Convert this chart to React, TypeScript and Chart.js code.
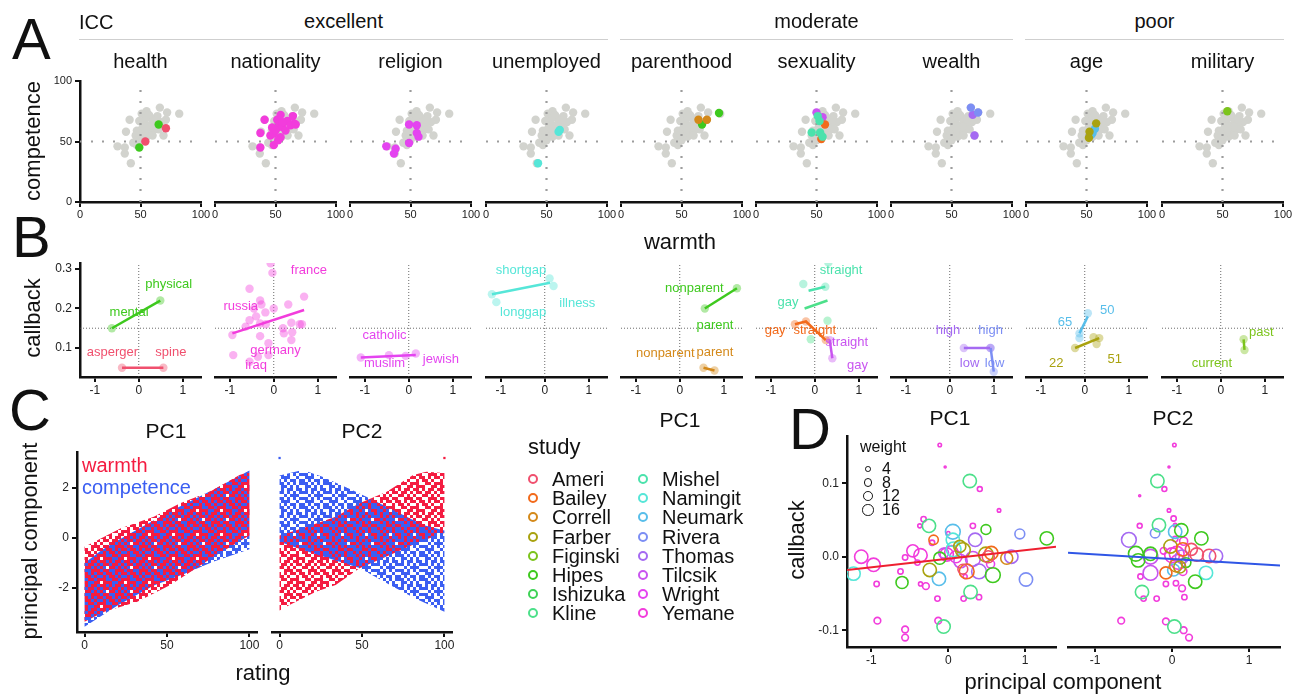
import React, { useEffect, useRef } from 'react';
import { Chart, registerables } from 'chart.js';

Chart.register(...registerables);

const FONT = '"Liberation Sans", Arial, Helvetica, sans-serif';

// ---------------- data ----------------
const STUDIES = ['Ameri', 'Bailey', 'Correll', 'Farber', 'Figinski', 'Hipes', 'Ishizuka', 'Kline',
  'Mishel', 'Namingit', 'Neumark', 'Rivera', 'Thomas', 'Tilcsik', 'Wright', 'Yemane'];
const STUDY_COLORS = ['#F0506E', '#F26A1B', '#D4891A', '#A9A20F', '#7CC41C', '#3EC91E', '#3ED256', '#4CE08A',
  '#4BE2AC', '#56E6D8', '#58BEEA', '#7C8EF4', '#A56AF2', '#C954F0', '#E444F0', '#F23CDC'];

// Panel A
const A_TITLES = ['health', 'nationality', 'religion', 'unemployed', 'parenthood', 'sexuality', 'wealth', 'age', 'military'];
const A_GROUPS = [
  { label: 'excellent', from: 0, to: 3 },
  { label: 'moderate', from: 4, to: 6 },
  { label: 'poor', from: 7, to: 8 },
];
const A_TICKS = [0, 50, 100];
const A_MID = 50;
const GREY_WARMTH = [82, 72, 66, 55, 51, 41, 71, 64, 60, 57, 53, 51, 47, 46, 38, 58, 55, 50, 69, 31, 37, 37, 42, 47, 54, 61, 56, 67, 49, 51, 44, 62, 58, 52, 48, 65, 60, 53, 57, 63, 59, 49, 54];
const GREY_COMPETENCE = [73, 74, 78, 75, 73, 68, 68, 71, 67, 63, 65, 60, 59, 55, 58, 58, 54, 51, 55, 46, 45, 40, 32, 47, 69, 60, 59, 66, 67, 55, 49, 64, 70, 62, 52, 60, 55, 57, 72, 68, 62, 56, 61];

const A_HEALTH = [
  { s: 'Ameri', pts: [[71, 61], [54, 50]] },
  { s: 'Hipes', pts: [[65, 64], [49, 45]] },
];
const A_NATIONALITY = [
  { s: 'Yemane', pts: [[41, 68], [37.5, 57], [37.5, 45], [48.6, 47], [51.4, 68], [54.2, 72], [53, 66], [50.6, 60.5], [45.8, 55], [55.6, 62], [59.7, 67], [64.4, 71], [65.3, 65], [62.5, 63.4], [58.3, 59], [54.2, 53.5], [48.6, 56.6], [52.2, 51], [50, 59], [56, 66], [66.7, 64], [47.2, 61.6]] },
];
const A_RELIGION = [
  { s: 'Wright', pts: [[30, 46], [37.7, 44], [36.3, 40], [48.8, 64], [55.2, 63.4], [48.8, 48.7], [55.2, 57], [56.6, 54]] },
];
const A_UNEMPLOYED = [{ s: 'Namingit', pts: [[60, 58], [43, 32], [61, 59.5]] }];
const A_PARENTHOOD = [
  { s: 'Correll', pts: [[64, 68], [71, 68]] },
  { s: 'Hipes', pts: [[81, 73.5], [67, 64]] },
];
const A_SEXUALITY = [
  { s: 'Mishel', pts: [[46, 57.5], [52.5, 67], [53, 57.5], [55, 54], [51, 71]] },
  { s: 'Bailey', pts: [[57, 64], [54, 52]] },
  { s: 'Tilcsik', pts: [[50, 74], [55, 70]] },
];
const A_WEALTH = [
  { s: 'Rivera', pts: [[66, 78], [72, 74]] },
  { s: 'Thomas', pts: [[67.5, 72], [69, 55]] },
];
const A_AGE = [
  { s: 'Farber', pts: [[58, 65], [52.5, 58], [52, 53]] },
  { s: 'Neumark', pts: [[54, 55.6], [57, 60.5], [55, 57]] },
];
const A_MILITARY = [{ s: 'Figinski', pts: [[54, 75]] }];
const A_ALL = [A_HEALTH, A_NATIONALITY, A_RELIGION, A_UNEMPLOYED, A_PARENTHOOD, A_SEXUALITY, A_WEALTH, A_AGE, A_MILITARY];

// Panel B
const B_X_TICKS = [-1, 0, 1];
const B_Y_TICKS = [0.1, 0.2, 0.3];
const B_REF_CALLBACK = 0.15;
const B_REF_PC = 0;
const B_HEALTH = [
  { s: 'Hipes', line: [[-0.61, 0.15], [0.49, 0.22]], labels: [['mental', -0.22, 0.19], ['physical', 0.68, 0.26]] },
  { s: 'Ameri', line: [[-0.38, 0.05], [0.56, 0.05]], labels: [['asperger', -0.6, 0.09], ['spine', 0.73, 0.09]] },
];
const B_NATIONALITY = [
  {
    s: 'Yemane', line: [[-0.94, 0.137], [0.69, 0.196]],
    pts: [[-0.07, 0.314], [-0.03, 0.29], [-0.55, 0.25], [-0.31, 0.22], [-0.28, 0.21], [-0.45, 0.2], [-0.19, 0.19], [0.0, 0.2], [-0.55, 0.17], [-0.4, 0.18], [-0.64, 0.154], [-0.31, 0.162], [-0.94, 0.133], [-0.31, 0.13], [-0.12, 0.112], [0.21, 0.15], [0.23, 0.137], [0.4, 0.164], [0.42, 0.14], [0.33, 0.21], [0.69, 0.23], [0.59, 0.16], [0.64, 0.16], [0.4, 0.12], [-0.92, 0.082], [-0.12, 0.082], [-0.36, 0.078], [-0.55, 0.065], [-0.18, 0.16]],
    labels: [['france', 0.8, 0.297], ['russia', -0.75, 0.206], ['germany', 0.04, 0.095], ['iraq', -0.4, 0.057]],
  },
];
const B_RELIGION = [
  { s: 'Wright', line: [[-1.09, 0.076], [0.16, 0.082]], pts: [[-1.09, 0.076], [-0.45, 0.082], [-0.07, 0.08], [0.16, 0.086]], labels: [['catholic', -0.55, 0.133], ['muslim', -0.55, 0.06], ['jewish', 0.73, 0.071]] },
];
const B_UNEMPLOYED = [
  { s: 'Namingit', line: [[-1.2, 0.236], [0.12, 0.265]], pts: [[-1.2, 0.236], [0.11, 0.276], [0.2, 0.257], [-1.1, 0.216]], labels: [['shortgap', -0.54, 0.297], ['illness', 0.74, 0.213], ['longgap', -0.49, 0.19]] },
];
const B_PARENTHOOD = [
  { s: 'Hipes', line: [[0.57, 0.2], [1.3, 0.251]], labels: [['nonparent', 0.33, 0.251], ['parent', 0.8, 0.156]] },
  { s: 'Correll', line: [[0.54, 0.05], [0.79, 0.043]], labels: [['nonparent', -0.33, 0.087], ['parent', 0.8, 0.088]] },
];
const B_SEXUALITY = [
  { s: 'Mishel', line: [[-0.14, 0.245], [0.24, 0.255]], pts: [[-0.26, 0.262], [0.24, 0.255], [0.31, 0.316]], labels: [['straight', 0.6, 0.296], ['gay', -0.61, 0.215]] },
  { s: 'Kline', line: [[-0.23, 0.2], [0.29, 0.22]], pts: [[0.29, 0.169], [-0.09, 0.122]], labels: [] },
  { s: 'Bailey', line: [[-0.45, 0.16], [-0.2, 0.167], [0.25, 0.12]], labels: [['gay', -0.9, 0.144], ['straight', 0.0, 0.144]] },
  { s: 'Tilcsik', line: [[0.34, 0.12], [0.4, 0.074]], labels: [['straight', 0.73, 0.113], ['gay', 0.97, 0.057]] },
];
const B_WEALTH = [
  { s: 'Thomas', line: [[0.32, 0.1], [0.92, 0.1]], labels: [['high', -0.04, 0.144], ['low', 0.45, 0.06]] },
  { s: 'Rivera', line: [[0.93, 0.1], [1.0, 0.04]], labels: [['high', 0.93, 0.144], ['low', 1.02, 0.06]] },
];
const B_AGE = [
  { s: 'Neumark', line: [[-0.12, 0.137], [0.07, 0.18]], pts: [[0.07, 0.188], [-0.12, 0.125], [-0.12, 0.137]], labels: [['65', -0.45, 0.164], ['50', 0.51, 0.196]] },
  { s: 'Farber', line: [[-0.22, 0.1], [0.33, 0.125]], pts: [[-0.22, 0.1], [0.2, 0.127], [0.33, 0.125], [0.27, 0.11]], labels: [['22', -0.65, 0.06], ['51', 0.68, 0.07]] },
];
const B_MILITARY = [
  { s: 'Figinski', line: [[0.54, 0.095], [0.52, 0.122]], labels: [['past', 0.92, 0.139], ['current', -0.2, 0.06]] },
];
const B_ALL = [B_HEALTH, B_NATIONALITY, B_RELIGION, B_UNEMPLOYED, B_PARENTHOOD, B_SEXUALITY, B_WEALTH, B_AGE, B_MILITARY];

// Panel C: outlines of the rating / principal-component point clouds
const C_X_TICKS = [0, 50, 100];
const C_Y_TICKS = [-2, 0, 2];
const WARMTH_PC1_UPPER = [[0, -0.35], [6, -0.15], [22, 0.39], [42, 0.85], [58, 1.39], [76, 1.85], [94, 2.52], [100, 2.65]];
const WARMTH_PC1_LOWER = [[100, 0.1], [80, -0.68], [52, -1.88], [32, -2.55], [12, -2.95], [0, -3.35]];
const COMPETENCE_PC1_UPPER = [[0, -1.0], [10, -0.5], [20, -0.1], [50, 1.0], [80, 2.0], [100, 2.7]];
const COMPETENCE_PC1_LOWER = [[100, -0.45], [78, -0.95], [60, -1.45], [42, -1.9], [20, -2.7], [0, -3.55]];
const WARMTH_PC2_UPPER = [[0, 0.1], [14, 0.39], [34, 0.85], [48.5, 1.39], [65, 1.85], [81, 2.52], [89, 2.65], [100, 2.6]];
const WARMTH_PC2_LOWER = [[100, 0.2], [85, -0.15], [67, -0.68], [48.5, -1.21], [34, -1.88], [22, -2.15], [6, -2.68], [0, -2.9]];
const COMPETENCE_PC2_UPPER = [[0, 2.5], [14, 2.72], [26, 2.45], [44, 1.92], [54.5, 1.59], [75, 0.92], [87, 0.52], [100, 0.3]];
const COMPETENCE_PC2_LOWER = [[100, -2.95], [82, -2.41], [67, -1.88], [48.5, -1.2], [14, -0.48], [0, -0.15]];
const WARMTH_PC2_OUTLIERS = [[100, 3.2]];
const COMPETENCE_PC2_OUTLIERS = [[0, 3.2]];

// Panel D: study-level callback vs principal component [study, pc, callback, weight]
const D_X_TICKS = [-1, 0, 1];
const D_Y_TICKS = [-0.1, 0, 0.1];
const WEIGHT_KEYS = [4, 8, 12, 16];
const D_PC1 = [
  ['Yemane', -0.11, 0.152, 1.5], ['Yemane', -0.04, 0.122, 0.5], ['Kline', 0.28, 0.103, 22], ['Yemane', 0.41, 0.092, 3],
  ['Yemane', 0.66, 0.063, 1.5], ['Yemane', -0.32, 0.051, 3.5], ['Yemane', -0.37, 0.042, 2], ['Kline', -0.25, 0.042, 22],
  ['Neumark', 0.06, 0.034, 27], ['Bailey', -0.19, 0.023, 11], ['Yemane', -0.21, 0.019, 3.5], ['Yemane', 0.0, 0.032, 1.5],
  ['Yemane', 0.32, 0.042, 3.5], ['Hipes', 0.49, 0.037, 12], ['Rivera', 0.93, 0.031, 12], ['Hipes', 1.28, 0.025, 22],
  ['Thomas', 0.35, 0.023, 22], ['Farber', 0.15, 0.014, 18], ['Namingit', 0.06, 0.023, 22], ['Yemane', -1.13, 0.0, 22],
  ['Yemane', -0.97, -0.011, 22], ['Namingit', -1.23, -0.023, 22], ['Yemane', -0.56, -0.001, 3.5], ['Yemane', -0.46, 0.008, 18],
  ['Yemane', -0.36, 0.002, 22], ['Yemane', -0.40, -0.008, 3.5], ['Farber', -0.24, -0.018, 22], ['Hipes', -0.11, -0.002, 18],
  ['Yemane', -0.02, 0.003, 22], ['Yemane', 0.04, 0.006, 22], ['Tilcsik', -0.06, 0.005, 12], ['Farber', 0.19, 0.009, 27],
  ['Bailey', 0.24, -0.02, 27], ['Ameri', 0.19, -0.017, 12], ['Thomas', 0.40, -0.02, 27], ['Tilcsik', 0.32, -0.003, 27],
  ['Farber', 0.49, 0.003, 27], ['Bailey', 0.56, 0.005, 22], ['Correll', 0.76, -0.002, 18], ['Thomas', 0.82, 0.0, 22],
  ['Hipes', 0.58, -0.025, 27], ['Neumark', -0.12, -0.030, 22], ['Rivera', 1.01, -0.031, 22], ['Hipes', -0.60, -0.035, 18],
  ['Yemane', -0.62, -0.020, 3.5], ['Yemane', -0.93, -0.037, 3.5], ['Yemane', -0.36, -0.037, 2], ['Yemane', -0.29, -0.040, 5.5],
  ['Yemane', 0.22, -0.027, 2], ['Kline', 0.29, -0.048, 22], ['Yemane', -0.14, -0.057, 3.5], ['Yemane', 0.20, -0.057, 3.5],
  ['Yemane', 0.40, -0.055, 3.5], ['Yemane', -0.92, -0.087, 5.5], ['Yemane', -0.13, -0.087, 5.5], ['Kline', -0.06, -0.095, 22],
  ['Yemane', -0.56, -0.099, 5.5], ['Yemane', -0.56, -0.110, 5.5], ['Namingit', 0.07, 0.010, 27], ['Tilcsik', 0.16, -0.006, 22],
  ['Yemane', 0.10, 0.0, 18], ['Wright', 0.55, -0.01, 8], ['Ameri', 0.52, 0.0, 18],
];
const D_PC2 = [
  ['Yemane', 0.03, 0.152, 1.5], ['Yemane', -0.04, 0.122, 0.5], ['Kline', -0.19, 0.103, 22], ['Yemane', -0.10, 0.092, 3],
  ['Yemane', -0.42, 0.083, 0.5], ['Yemane', -0.04, 0.063, 1.5], ['Yemane', 0.02, 0.052, 3.5], ['Yemane', -0.42, 0.042, 3],
  ['Kline', -0.17, 0.043, 22], ['Rivera', -0.22, 0.032, 11], ['Neumark', 0.04, 0.034, 22], ['Yemane', 0.04, 0.043, 1.5],
  ['Hipes', 0.12, 0.036, 22], ['Hipes', 0.38, 0.025, 22], ['Thomas', -0.56, 0.023, 27], ['Yemane', 0.04, 0.024, 3.5],
  ['Yemane', 0.15, 0.021, 8], ['Farber', -0.02, 0.014, 22], ['Hipes', -0.47, 0.004, 27], ['Hipes', -0.44, -0.005, 22],
  ['Hipes', -0.28, 0.004, 22], ['Tilcsik', -0.28, 0.0, 27], ['Yemane', -0.11, 0.008, 5.5], ['Yemane', 0.0, 0.002, 27],
  ['Yemane', 0.06, 0.004, 27], ['Thomas', 0.13, 0.0, 22], ['Ameri', 0.32, 0.003, 22], ['Ameri', 0.48, 0.001, 22],
  ['Thomas', 0.57, 0.001, 22], ['Tilcsik', -0.28, -0.022, 27], ['Yemane', -0.41, -0.027, 3.5], ['Bailey', -0.08, -0.022, 18],
  ['Neumark', 0.02, -0.018, 18], ['Farber', 0.10, -0.014, 18], ['Yemane', 0.14, -0.020, 8], ['Hipes', 0.30, -0.034, 22],
  ['Namingit', 0.44, -0.022, 22], ['Yemane', -0.08, -0.037, 3.5], ['Yemane', 0.05, -0.036, 3.5], ['Yemane', 0.13, -0.043, 5.5],
  ['Kline', -0.39, -0.048, 22], ['Yemane', -0.37, -0.057, 3.5], ['Yemane', -0.20, -0.057, 3.5], ['Yemane', 0.16, -0.055, 3.5],
  ['Yemane', -0.66, -0.087, 5.5], ['Yemane', -0.08, -0.088, 5.5], ['Kline', 0.03, -0.095, 22], ['Yemane', 0.15, -0.100, 5.5],
  ['Yemane', 0.22, -0.110, 5.5], ['Yemane', 0.08, -0.007, 27], ['Bailey', 0.14, 0.010, 22], ['Hipes', 0.18, -0.008, 12],
  ['Correll', 0.05, -0.012, 20], ['Ameri', 0.25, 0.01, 18],
];
const D_PC1_FIT = [[-1.315, -0.018], [1.4, 0.0136]];
const D_PC2_FIT = [[-1.35, 0.0054], [1.4, -0.0118]];

// ---------------- style / layout ----------------
const PAD = 18, PAD_T = 12, XH = 30;
const STRIDE = 135.2;
const C_RED = '#F41C41';
const C_BLUE = '#3B5EF2';
const RED_MASK = ['10110110', '01101011', '11010100', '00111011', '10101101', '11010010', '01101110', '10011011'];
const BLUE_MASK = ['01011011', '11010101', '00101110', '11010101', '01110010', '10101101', '11010101', '01101010'];

type Area = { l: number; t: number; r: number; b: number };
const colorOf = (s: string) => STUDY_COLORS[STUDIES.indexOf(s)];
function hexA(hex: string, a: number) {
  const n = parseInt(hex.slice(1), 16);
  return `rgba(${(n >> 16) & 255},${(n >> 8) & 255},${n & 255},${a})`;
}
const wr = (w: number) => 1.42 * Math.sqrt(w);
const xy = (arr: number[][]) => arr.map(([x, y]) => ({ x, y }));

function axis(kind: 'x' | 'y', min: number, max: number, ticks: number[] | null, size: number, fmt?: (v: number) => string, fontSize = 12) {
  if (!ticks) return { type: 'linear', display: false, min, max };
  return {
    type: 'linear', min, max,
    afterBuildTicks: (s: any) => { s.ticks = ticks.map((value) => ({ value })); },
    afterFit: (s: any) => { if (kind === 'x') s.height = size; else s.width = size; },
    ticks: {
      autoSkip: false, maxRotation: 0, padding: kind === 'x' ? 1 : 3, color: '#222',
      font: { size: fontSize, family: FONT },
      callback: (v: any) => (fmt ? fmt(Number(v)) : String(v)),
    },
    grid: { drawOnChartArea: false, drawTicks: true, tickLength: 5, color: '#111', lineWidth: 2 },
    border: { display: true, color: '#111', width: 2.5 },
  };
}

function opts(yW: number, xs: any, ys: any) {
  return {
    responsive: false, animation: false, events: [], devicePixelRatio: 1,
    layout: { padding: { left: yW > 0 ? 0 : PAD, right: PAD, top: PAD_T, bottom: 0 } },
    plugins: { legend: { display: false }, tooltip: { enabled: false } },
    scales: { x: xs, y: ys },
  };
}

function labelPlugin(items: { text: string; x: number; y: number; color: string }[]) {
  return {
    id: 'pointLabels',
    afterDatasetsDraw(chart: any) {
      const ctx = chart.ctx;
      const xs = chart.scales.x, ys = chart.scales.y;
      ctx.save();
      ctx.font = `13px ${FONT}`;
      ctx.textAlign = 'center';
      ctx.textBaseline = 'middle';
      items.forEach((it) => {
        ctx.fillStyle = it.color;
        ctx.fillText(it.text, xs.getPixelForValue(it.x), ys.getPixelForValue(it.y));
      });
      ctx.restore();
    },
  };
}

function makePattern(color: string, mask: string[]) {
  const cell = 3;
  const c = document.createElement('canvas');
  c.width = c.height = cell * mask.length;
  const g = c.getContext('2d') as CanvasRenderingContext2D;
  g.fillStyle = color;
  mask.forEach((row, r) => row.split('').forEach((ch, k) => { if (ch === '1') g.fillRect(k * cell, r * cell, cell, cell); }));
  return g.createPattern(c, 'repeat');
}

// ---------------- chart builders ----------------
const aArea = (i: number): Area => ({ l: Math.round(80 + STRIDE * i), t: 81, r: Math.round(80 + STRIDE * i) + 121, b: 202 });
const bArea = (i: number): Area => ({ l: Math.round(80 + STRIDE * i), t: 263, r: Math.round(80 + STRIDE * i) + 121, b: 377 });
const B_XMIN = -1.335, B_XMAX = 1.415, B_YMIN = 0.0266, B_YMAX = 0.315;
const C_AREAS: Area[] = [{ l: 77, t: 452, r: 257, b: 632 }, { l: 272, t: 452, r: 452, b: 632 }];
const C_XMIN = -4.6, C_XMAX = 104.6, C_YMIN = -3.76, C_YMAX = 3.44;
const D_AREAS: Area[] = [{ l: 847, t: 436, r: 1056, b: 647 }, { l: 1068, t: 436, r: 1280, b: 647 }];
const D_XR = [[-1.315, 1.4], [-1.35, 1.4]];
const D_YMIN = -0.1228, D_YMAX = 0.1642;

function aConfig(i: number) {
  const yW = i === 0 ? 45 : 0;
  const ds: any[] = [];
  A_ALL[i].forEach((g) => ds.push({
    data: xy(g.pts), backgroundColor: colorOf(g.s), pointRadius: 4.2, pointBorderWidth: 0, order: 1,
  }));
  const dotted = { showLine: true, borderColor: '#9c9c9c', borderWidth: 2.2, borderDash: [2, 9], pointRadius: 0, fill: false, order: 2 };
  ds.push({ ...dotted, data: [{ x: A_MID, y: 0 }, { x: A_MID, y: 100 }] });
  ds.push({ ...dotted, data: [{ x: 0, y: A_MID }, { x: 100, y: A_MID }] });
  ds.push({
    data: GREY_WARMTH.map((w, k) => ({ x: w, y: GREY_COMPETENCE[k] })),
    backgroundColor: '#D2D3CE', pointRadius: 4.2, pointBorderWidth: 0, order: 3,
  });
  return {
    type: 'scatter', data: { datasets: ds },
    options: opts(yW, axis('x', 0, 100, A_TICKS, XH, undefined, 11), axis('y', 0, 100, i === 0 ? A_TICKS : null, yW, undefined, 11)),
  };
}

function bConfig(i: number) {
  const yW = i === 0 ? 45 : 0;
  const ds: any[] = [];
  const labels: any[] = [];
  B_ALL[i].forEach((g: any) => {
    const col = colorOf(g.s);
    ds.push({ data: xy(g.line), showLine: true, borderColor: col, borderWidth: 2.5, pointRadius: 0, fill: false, order: 1 });
    ds.push({ data: xy(g.pts || g.line), backgroundColor: hexA(col, 0.4), pointRadius: 4.2, pointBorderWidth: 0, order: 2 });
    g.labels.forEach(([text, x, y]: any) => labels.push({ text, x, y, color: col }));
  });
  const dotted = { showLine: true, borderColor: '#444', borderWidth: 0.8, borderDash: [1, 2], pointRadius: 0, fill: false, order: 3 };
  ds.push({ ...dotted, data: [{ x: B_XMIN, y: B_REF_CALLBACK }, { x: B_XMAX, y: B_REF_CALLBACK }] });
  ds.push({ ...dotted, data: [{ x: B_REF_PC, y: B_YMIN }, { x: B_REF_PC, y: B_YMAX }] });
  return {
    type: 'scatter', data: { datasets: ds },
    options: opts(yW, axis('x', B_XMIN, B_XMAX, B_X_TICKS, XH), axis('y', B_YMIN, B_YMAX, i === 0 ? B_Y_TICKS : null, yW, (v) => v.toFixed(1))),
    plugins: [labelPlugin(labels)],
  };
}

function cConfig(k: number) {
  const yW = k === 0 ? 40 : 0;
  const red = makePattern(C_RED, RED_MASK);
  const blue = makePattern(C_BLUE, BLUE_MASK);
  const wU = k === 0 ? WARMTH_PC1_UPPER : WARMTH_PC2_UPPER;
  const wL = k === 0 ? WARMTH_PC1_LOWER : WARMTH_PC2_LOWER;
  const cU = k === 0 ? COMPETENCE_PC1_UPPER : COMPETENCE_PC2_UPPER;
  const cL = k === 0 ? COMPETENCE_PC1_LOWER : COMPETENCE_PC2_LOWER;
  const poly = (pts: number[][], pat: any, order: number) => ({
    data: xy(pts), showLine: true, fill: 'shape', backgroundColor: pat, borderWidth: 0, borderColor: 'rgba(0,0,0,0)', pointRadius: 0, order,
  });
  const ds: any[] = k === 0
    ? [poly(wU.concat(wL), red, 1), poly(cU.concat(cL), blue, 2)]
    : [poly(cU.concat(cL), blue, 1), poly(wU.concat(wL), red, 2)];
  if (k === 1) {
    ds.push({ data: xy(WARMTH_PC2_OUTLIERS), pointStyle: 'rect', pointRadius: 1.6, backgroundColor: C_RED, pointBorderWidth: 0, order: 0 });
    ds.push({ data: xy(COMPETENCE_PC2_OUTLIERS), pointStyle: 'rect', pointRadius: 1.6, backgroundColor: C_BLUE, pointBorderWidth: 0, order: 0 });
  }
  return {
    type: 'scatter', data: { datasets: ds },
    options: opts(yW, axis('x', C_XMIN, C_XMAX, C_X_TICKS, XH), axis('y', C_YMIN, C_YMAX, k === 0 ? C_Y_TICKS : null, yW)),
  };
}

function dConfig(k: number) {
  const yW = k === 0 ? 45 : 0;
  const rows = k === 0 ? D_PC1 : D_PC2;
  const fit = k === 0 ? D_PC1_FIT : D_PC2_FIT;
  const ds: any[] = [{
    data: xy(fit), showLine: true, borderColor: k === 0 ? '#EE2030' : '#2F56E6', borderWidth: 2, pointRadius: 0, fill: false, order: 0,
  }];
  STUDIES.forEach((s) => {
    const pts = rows.filter((r: any) => r[0] === s);
    if (!pts.length) return;
    ds.push({
      type: 'bubble', data: pts.map((r: any) => ({ x: r[1], y: r[2], r: wr(r[3]) })),
      backgroundColor: 'rgba(0,0,0,0)', borderColor: colorOf(s), borderWidth: 1.6, order: 1,
    });
  });
  return {
    type: 'scatter', data: { datasets: ds },
    options: opts(yW, axis('x', D_XR[k][0], D_XR[k][1], D_X_TICKS, XH), axis('y', D_YMIN, D_YMAX, k === 0 ? D_Y_TICKS : null, yW, (v) => v.toFixed(1))),
  };
}

// ---------------- components ----------------
function ChartBox({ area, yW, build }: { area: Area; yW: number; build: () => any }) {
  const ref = useRef<HTMLCanvasElement | null>(null);
  const padL = yW > 0 ? yW : PAD;
  const box = { left: area.l - padL, top: area.t - PAD_T, width: area.r - area.l + padL + PAD, height: area.b - area.t + PAD_T + XH };
  useEffect(() => {
    const chart = new Chart(ref.current as HTMLCanvasElement, build());
    return () => chart.destroy();
  }, []);
  return (
    <canvas ref={ref} width={box.width} height={box.height}
      style={{ position: 'absolute', left: box.left, top: box.top, width: box.width, height: box.height }} />
  );
}

function Txt({ x, y, children, size = 20, color = '#111', align = 'center', rotate = false }: any) {
  const tx = align === 'center' ? '-50%' : align === 'right' ? '-100%' : '0';
  return (
    <div style={{
      position: 'absolute', left: x, top: y, fontSize: size, color, lineHeight: 1, whiteSpace: 'nowrap',
      transform: `translate(${tx},-50%)${rotate ? ' rotate(-90deg)' : ''}`,
    }}>{children}</div>
  );
}

function Ring({ x, y, r, color, w = 2 }: any) {
  return (
    <div style={{
      position: 'absolute', left: x - r, top: y - r, width: 2 * r, height: 2 * r, boxSizing: 'border-box',
      border: `${w}px solid ${color}`, borderRadius: '50%',
    }} />
  );
}

const LEGEND_ROWS = [479, 498, 517, 537, 556, 575, 594, 613];
const WEIGHT_ROWS = [469, 482.5, 496, 510];

export default function App() {
  return (
    <div style={{ position: 'absolute', left: 0, top: 0, width: 1293, height: 694, background: '#fff', overflow: 'hidden', fontFamily: FONT, color: '#111' }}>
      {A_TITLES.map((_, i) => <ChartBox key={'a' + i} area={aArea(i)} yW={i === 0 ? 45 : 0} build={() => aConfig(i)} />)}
      {A_TITLES.map((_, i) => <ChartBox key={'b' + i} area={bArea(i)} yW={i === 0 ? 45 : 0} build={() => bConfig(i)} />)}
      {[0, 1].map((k) => <ChartBox key={'c' + k} area={C_AREAS[k]} yW={k === 0 ? 40 : 0} build={() => cConfig(k)} />)}
      {[0, 1].map((k) => <ChartBox key={'d' + k} area={D_AREAS[k]} yW={k === 0 ? 45 : 0} build={() => dConfig(k)} />)}

      {/* Panel A headings */}
      <Txt x={12} y={39} size={58} align="left">A</Txt>
      <Txt x={79} y={22} size={20} align="left">ICC</Txt>
      {A_GROUPS.map((g) => {
        const l = aArea(g.from).l - 1, r = aArea(g.to).r + 1;
        return (
          <React.Fragment key={g.label}>
            <Txt x={(l + r) / 2} y={21} size={20}>{g.label}</Txt>
            <div style={{ position: 'absolute', left: l, top: 39, width: r - l, height: 0, borderTop: '1.5px solid #cfcfcf' }} />
          </React.Fragment>
        );
      })}
      {A_TITLES.map((t, i) => <Txt key={t} x={aArea(i).l + 60.5} y={61} size={20}>{t}</Txt>)}
      <Txt x={33} y={141} size={22} rotate>competence</Txt>
      <Txt x={680} y={242} size={22}>warmth</Txt>

      {/* Panel B */}
      <Txt x={12} y={237} size={58} align="left">B</Txt>
      <Txt x={33} y={318} size={22} rotate>callback</Txt>
      <Txt x={680} y={419} size={21}>PC1</Txt>

      {/* Panel C */}
      <Txt x={9} y={410} size={58} align="left">C</Txt>
      <Txt x={166} y={430} size={21}>PC1</Txt>
      <Txt x={362} y={430} size={21}>PC2</Txt>
      <Txt x={30} y={541} size={22} rotate>principal component</Txt>
      <Txt x={263} y={673} size={22}>rating</Txt>
      <Txt x={82} y={465} size={20} color={C_RED} align="left">warmth</Txt>
      <Txt x={82} y={487} size={20} color={C_BLUE} align="left">competence</Txt>

      {/* study legend */}
      <Txt x={528} y={447} size={22} align="left">study</Txt>
      {STUDIES.map((s, k) => {
        const col = k < 8 ? 0 : 1;
        const y = LEGEND_ROWS[k % 8];
        const cx = col === 0 ? 533 : 643;
        return (
          <React.Fragment key={s}>
            <Ring x={cx} y={y} r={5} color={STUDY_COLORS[k]} w={2} />
            <Txt x={cx + 19} y={y} size={20} align="left">{s}</Txt>
          </React.Fragment>
        );
      })}

      {/* Panel D */}
      <Txt x={789} y={429} size={58} align="left">D</Txt>
      <Txt x={950} y={417} size={21}>PC1</Txt>
      <Txt x={1173} y={417} size={21}>PC2</Txt>
      <Txt x={797} y={540} size={22} rotate>callback</Txt>
      <Txt x={1063} y={682} size={22}>principal component</Txt>
      <Txt x={860} y={447} size={16} align="left">weight</Txt>
      {WEIGHT_KEYS.map((w, k) => (
        <React.Fragment key={w}>
          <Ring x={868} y={WEIGHT_ROWS[k]} r={wr(w)} color="#111" w={1.5} />
          <Txt x={882} y={WEIGHT_ROWS[k]} size={16} align="left">{w}</Txt>
        </React.Fragment>
      ))}
    </div>
  );
}
